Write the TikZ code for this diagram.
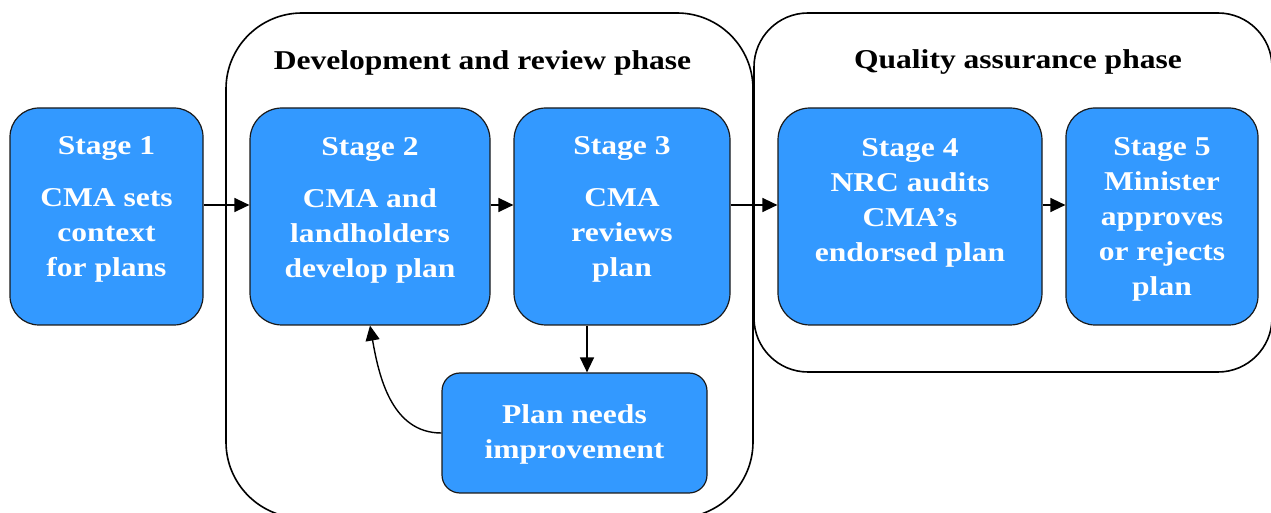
\documentclass[tikz,border=0pt]{standalone}
\usepackage{fontspec}
\setmainfont{Liberation Serif}[FakeStretch=1.16]
\usepackage{tikz}
\usetikzlibrary{arrows.meta,calc,positioning,fit}
\definecolor{cStage}{HTML}{3399FF}
\definecolor{cEdge}{HTML}{1A1A1A}

\begin{document}
\begin{tikzpicture}[x=0.5pt, y=-0.5pt,
  font=\fontsize{13.6}{17.5}\selectfont\bfseries, >=Triangle,
  stagebox/.style={draw=cEdge, line width=0.6pt, fill=cStage, rounded corners=#1,
                   inner sep=0pt},
  stagebox/.default=15pt,
  stagetext/.style={text=white, align=center, inner sep=0pt},
  phasebox/.style={draw=black, line width=0.8pt, rounded corners=#1, inner sep=0pt},
  phasetitle/.style={text=black, inner sep=0pt},
  flow/.style={-{Triangle[length=7.5pt,width=7pt]}, line width=0.7pt}]

  \useasboundingbox (0,0) rectangle (1271,513);
  \clip (0,0) rectangle (1271,513);

  % phases
  \node[phasebox=38pt, fit={(226,13) (753,518)}] (dev) {};
  \node[phasebox=27pt, fit={(754,13) (1272,372)}] (qa) {};
  \node[phasetitle] (devtitle) at (482.5,63) {Development and review phase};
  \node[phasetitle] (qatitle) at (1018,62) {Quality assurance phase};

  % stages
  \node[stagebox=14.5pt, fit={(10,108) (203,325)}] (s1) {};
  \node[stagebox=16pt, fit={(250,108) (490,325)}] (s2) {};
  \node[stagebox=16pt, fit={(514,108) (730,325)}] (s3) {};
  \node[stagebox=16pt, fit={(778,108) (1042,325)}] (s4) {};
  \node[stagebox=14.5pt, fit={(1066,108) (1258,325)}] (s5) {};
  \node[stagebox=9pt, fit={(442,373) (707,493)}] (imp) {};

  \node[stagetext] at (106.5,209) {Stage 1\\[8.5pt]CMA sets\\context\\for plans};
  \node[stagetext] at (370,210.5) {Stage 2\\[8.5pt]CMA and\\landholders\\develop plan};
  \node[stagetext] at (622,209.5) {Stage 3\\[8.5pt]CMA\\reviews\\plan};
  \node[stagetext] at (910,202.5) {Stage 4\\NRC audits\\CMA’s\\endorsed plan};
  \node[stagetext] at (1162,219) {Stage 5\\Minister\\approves\\or rejects\\plan};
  \node[stagetext] at (574.5,434.5) {Plan needs\\improvement};

  % connectors
  \coordinate (flowy) at (0,205);
  \coordinate (downx) at (587,0);
  \coordinate (backx) at (370,0);
  \draw[flow] (s1.east |- flowy) -- (s2.west |- flowy);
  \draw[flow] (s2.east |- flowy) -- (s3.west |- flowy);
  \draw[flow] (s3.east |- flowy) -- (s4.west |- flowy);
  \draw[flow] (s4.east |- flowy) -- (s5.west |- flowy);
  \draw[flow] (s3.south -| downx) -- (imp.north -| downx);
  \draw[flow] (imp.west) to[out=180, in=-80] (s2.south -| backx);
\end{tikzpicture}
\end{document}
